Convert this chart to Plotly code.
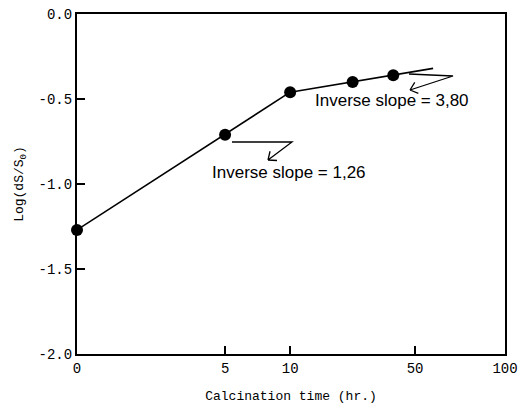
import numpy as np
import plotly.graph_objects as go

# data
hours = [0, 5, 10, 30, 43]
log_ds = [-1.27, -0.71, -0.46, -0.40, -0.36]
fit1_hours = [0, 10]
fit1_y = [-1.27, -0.46]
fit2_hours = [10, 60]
fit2_y = [-0.46, -0.32]
tick_hours = [0, 5, 10, 50, 100]
tick_labels = ["0", "5", "10", "50", "100"]
ytick_vals = [0.0, -0.5, -1.0, -1.5, -2.0]
ytick_labels = ["0.0", "-0.5", "-1.0", "-1.5", "-2.0"]

# nonuniform axis scale of the original (relative position of each tick)
tick_pos = [0.0, 0.346, 0.498, 0.79, 1.0]


def xs(h):
    return np.interp(h, tick_hours, tick_pos)


W, H = 518, 404
ML, MR, MT, MB = 77, 13, 14, 50
PW, PH = W - ML - MR, H - MT - MB


def to_paper(px, py):
    return (px - ML) / PW, 1 - (py - MT) / PH


def leader_path(points, head_len=9.0, spread=40.0):
    """Leader line through pixel points, with an open V arrowhead at the end."""
    segs = []
    for i, (px, py) in enumerate(points):
        x, y = to_paper(px, py)
        segs.append(("M" if i == 0 else "L") + f"{x:.5f},{y:.5f}")
    (x1, y1), (x2, y2) = points[-2], points[-1]
    back = np.arctan2(y1 - y2, x1 - x2)
    hx, hy = to_paper(x2, y2)
    for s in (-1, 1):
        a = back + s * np.radians(spread)
        ex, ey = to_paper(x2 + head_len * np.cos(a), y2 + head_len * np.sin(a))
        segs.append(f"M{hx:.5f},{hy:.5f}L{ex:.5f},{ey:.5f}")
    return "".join(segs)


mono = "Liberation Mono, Courier New, monospace"
sans = "Liberation Sans Narrow, Arial Narrow, Liberation Sans, sans-serif"

fig = go.Figure()
fig.add_trace(go.Scatter(x=xs(fit1_hours), y=fit1_y, mode="lines",
                         line=dict(color="black", width=1.6), showlegend=False))
fig.add_trace(go.Scatter(x=xs(fit2_hours), y=fit2_y, mode="lines",
                         line=dict(color="black", width=1.6), showlegend=False))
fig.add_trace(go.Scatter(x=xs(hours), y=log_ds, mode="markers",
                         marker=dict(color="black", size=12), showlegend=False,
                         cliponaxis=False))

fig.add_shape(type="path", xref="paper", yref="paper",
              path=leader_path([(232, 142), (292, 142), (268, 160)]),
              line=dict(color="black", width=1.3))
fig.add_shape(type="path", xref="paper", yref="paper",
              path=leader_path([(409, 74), (453, 76), (410, 90)]),
              line=dict(color="black", width=1.3))

fig.add_annotation(xref="paper", yref="paper", x=to_paper(289, 0)[0], y=to_paper(0, 172)[1],
                   xanchor="center", yanchor="middle", text="Inverse slope = 1,26",
                   showarrow=False, font=dict(family=sans, size=17, color="black"))
fig.add_annotation(xref="paper", yref="paper", x=to_paper(392, 0)[0], y=to_paper(0, 100)[1],
                   xanchor="center", yanchor="middle", text="Inverse slope = 3,80",
                   showarrow=False, font=dict(family=sans, size=17, color="black"))

fig.update_xaxes(range=[0, 1], tickvals=[xs(h) for h in tick_hours], ticktext=tick_labels,
                 ticks="inside", ticklen=8, tickwidth=2, tickcolor="black",
                 showline=True, linecolor="black", linewidth=2.2, mirror=True,
                 showgrid=False, zeroline=False, automargin=False,
                 tickfont=dict(family=mono, size=14, color="black"),
                 title=dict(text="Calcination time (hr.)", standoff=16,
                            font=dict(family=mono, size=13, color="black")))
fig.update_yaxes(range=[-2.0, 0.0], tickvals=ytick_vals, ticktext=ytick_labels,
                 ticks="inside", ticklen=8, tickwidth=2, tickcolor="black",
                 showline=True, linecolor="black", linewidth=2.2, mirror=True,
                 showgrid=False, zeroline=False, automargin=False,
                 tickfont=dict(family=mono, size=14, color="black"),
                 title=dict(text="Log(dS/S<sub>0</sub>)", standoff=12,
                            font=dict(family=mono, size=13, color="black")))
fig.update_layout(width=W, height=H, margin=dict(l=ML, r=MR, t=MT, b=MB),
                  plot_bgcolor="white", paper_bgcolor="white")
fig.write_html("out.html")
